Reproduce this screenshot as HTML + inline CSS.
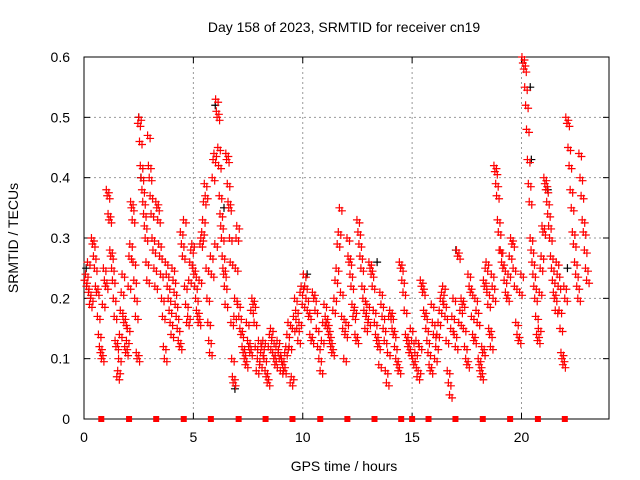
<!DOCTYPE html>
<html><head><meta charset="utf-8"><style>
body{margin:0;background:#fff}
svg{display:block;font-family:"Liberation Sans",sans-serif}
</style></head><body>
<svg id="chart" width="640" height="480">
<rect width="640" height="480" fill="#fff"/>
<text x="344" y="32" text-anchor="middle" font-size="14">Day 158 of 2023, SRMTID for receiver cn19</text>
<text x="344" y="471" text-anchor="middle" font-size="14">GPS time / hours</text>
<text transform="translate(18,238) rotate(-90)" text-anchor="middle" font-size="14">SRMTID / TECUs</text>
<g id="grid"></g>
<g id="axes"></g>
<g id="marks"></g>
</svg>
<script>
const xTicks=[0,5,10,15,20];
const yTicks=[0,0.1,0.2,0.3,0.4,0.5,0.6];
const yTickLabels=["0","0.1","0.2","0.3","0.4","0.5","0.6"];
const gapTimes=[0.79,2.06,3.3,4.56,5.8,7.07,8.3,9.53,10.8,12.04,13.28,14.5,15.0,15.75,16.98,18.23,19.48,20.75,21.98];
const hourBins=[
[0.23,0.24,0.22,0.26,0.21,0.19,0.20,0.30,0.29,0.27,0.25,0.22,0.21,0.17,0.14,0.12,0.11,0.10,0.19,0.25,0.23,0.22],
[0.38,0.37,0.34,0.33,0.28,0.27,0.25,0.23,0.20,0.17,0.13,0.12,0.07,0.08,0.10,0.14,0.18,0.21,0.24,0.17,0.16,0.12,0.11,0.13,0.15],
[0.22,0.27,0.29,0.36,0.35,0.33,0.26,0.23,0.20,0.17,0.11,0.10,0.49,0.50,0.46,0.42,0.40,0.38,0.36,0.34,0.32,0.30,0.26,0.23,0.47,0.42,0.40],
[0.37,0.34,0.30,0.28,0.25,0.22,0.36,0.35,0.33,0.29,0.27,0.24,0.20,0.17,0.12,0.10,0.26,0.24,0.22,0.20,0.18,0.16,0.14],
[0.25,0.23,0.21,0.19,0.17,0.15,0.13,0.12,0.31,0.29,0.27,0.33,0.22,0.19,0.16,0.17,0.23,0.26,0.28,0.29,0.25],
[0.24,0.22,0.20,0.18,0.17,0.16,0.23,0.29,0.30,0.31,0.33,0.36,0.39,0.37,0.25,0.20,0.16,0.13,0.11,0.27,0.24,0.40,0.43,0.44,0.29],
[0.53,0.51,0.50,0.45,0.42,0.37,0.34,0.32,0.30,0.27,0.25,0.24,0.22,0.19,0.44,0.43,0.39,0.36,0.35,0.30,0.26,0.16,0.10,0.07,0.06,0.17,0.20,0.25,0.30,0.32],
[0.19,0.17,0.15,0.14,0.12,0.11,0.10,0.09,0.16,0.13,0.12,0.11,0.18,0.20,0.19,0.16,0.12,0.08,0.10,0.13],
[0.09,0.11,0.12,0.13,0.10,0.08,0.07,0.06,0.12,0.14,0.15,0.13,0.11,0.10,0.09,0.12,0.13,0.11,0.10,0.08],
[0.10,0.09,0.08,0.11,0.12,0.14,0.16,0.12,0.06,0.07,0.15,0.17,0.20,0.18,0.15,0.13,0.16,0.21,0.22,0.19],
[0.24,0.22,0.20,0.18,0.17,0.14,0.13,0.21,0.20,0.18,0.15,0.12,0.10,0.08,0.13,0.16,0.19],
[0.17,0.16,0.15,0.14,0.13,0.12,0.11,0.18,0.20,0.23,0.25,0.29,0.31,0.35,0.21,0.17,0.15,0.10,0.14,0.16],
[0.30,0.27,0.26,0.24,0.22,0.19,0.17,0.18,0.14,0.13,0.33,0.31,0.29,0.27,0.25,0.22,0.20,0.18,0.15,0.17,0.19,0.16],
[0.26,0.25,0.24,0.22,0.18,0.16,0.14,0.13,0.12,0.09,0.21,0.19,0.17,0.15,0.13,0.08,0.06,0.11,0.17,0.18],
[0.17,0.15,0.14,0.12,0.10,0.09,0.08,0.26,0.25,0.23,0.21,0.18,0.14,0.13,0.12,0.11,0.15,0.13],
[0.10,0.09,0.11,0.13,0.07,0.08,0.12,0.23,0.22,0.21,0.18,0.17,0.15,0.13,0.11,0.09,0.08,0.19,0.16,0.14],
[0.10,0.12,0.14,0.16,0.18,0.20,0.21,0.22,0.19,0.17,0.13,0.08,0.06,0.04,0.15,0.17,0.20,0.14,0.12],
[0.28,0.27,0.16,0.18,0.20,0.19,0.15,0.12,0.10,0.09,0.24,0.22,0.21,0.17,0.14,0.13,0.20,0.18,0.16],
[0.10,0.09,0.08,0.07,0.12,0.11,0.23,0.22,0.25,0.26,0.21,0.19,0.15,0.14,0.12,0.24,0.22,0.20,0.42,0.41,0.39,0.37,0.33,0.31,0.28],
[0.28,0.26,0.25,0.23,0.21,0.20,0.24,0.27,0.30,0.29,0.25,0.22,0.16,0.14,0.13,0.21,0.24],
[0.60,0.59,0.58,0.55,0.52,0.48,0.43,0.39,0.36,0.30,0.28,0.26,0.24,0.22,0.20,0.17,0.14,0.13,0.15,0.21,0.25,0.27,0.32,0.31],
[0.40,0.39,0.38,0.36,0.34,0.32,0.30,0.27,0.25,0.23,0.21,0.20,0.18,0.26,0.24,0.22,0.18,0.15,0.11,0.10,0.09,0.22,0.20],
[0.50,0.49,0.45,0.42,0.38,0.35,0.31,0.29,0.26,0.24,0.22,0.20,0.44,0.40,0.37,0.33,0.31,0.28,0.25,0.23]
];
const blackTimes=[0.1,2.5,2.6,6.0,6.4,6.9,10.2,13.4,17.0,20.4,20.45,21.2,22.1];
const blackValues=[0.25,0.50,0.40,0.52,0.35,0.05,0.24,0.26,0.28,0.55,0.43,0.38,0.25];

const L=84,R=609,T=57,B=419,XMAX=24,YMAX=0.6;
const xs=v=>L+(R-L)*v/XMAX;
const ys=v=>B-(B-T)*v/YMAX;
const NS="http://www.w3.org/2000/svg";
function mk(tag,attrs,parent){const e=document.createElementNS(NS,tag);for(const k in attrs)e.setAttribute(k,attrs[k]);parent.appendChild(e);return e;}
const grid=document.getElementById('grid'),axes=document.getElementById('axes'),marks=document.getElementById('marks');
xTicks.forEach(t=>{if(t>0){const g=mk('line',{x1:xs(t),x2:xs(t),y1:T,y2:B,stroke:'#999','stroke-dasharray':'2,3'},grid);

}
mk('line',{x1:xs(t),x2:xs(t),y1:B,y2:B-6,stroke:'#000'},axes);
mk('line',{x1:xs(t),x2:xs(t),y1:T,y2:T+6,stroke:'#000'},axes);
const tx=mk('text',{x:xs(t),y:B+23,'text-anchor':'middle','font-size':14},axes);tx.textContent=t;

});
yTicks.forEach((t,i)=>{if(t>0&&t<YMAX){const g=mk('line',{x1:L,x2:R,y1:ys(t),y2:ys(t),stroke:'#999','stroke-dasharray':'2,3'},grid);

}
mk('line',{x1:L,x2:L+6,y1:ys(t),y2:ys(t),stroke:'#000'},axes);
mk('line',{x1:R,x2:R-6,y1:ys(t),y2:ys(t),stroke:'#000'},axes);
const tx=mk('text',{x:L-14,y:ys(t)+5,'text-anchor':'end','font-size':14},axes);tx.textContent=yTickLabels[i];

});
const fr=mk('rect',{x:L,y:T,width:R-L,height:B-T,fill:'none',stroke:'#000'},axes);


function plus(x,y,c){return mk('path',{d:`M${x-4},${y}h8M${x},${y-4}v8`,stroke:c,'stroke-width':1.2,fill:'none'},marks);}
blackTimes.forEach((t,i)=>{const p=plus(xs(t),ys(blackValues[i]),'#000');

});
hourBins.forEach((vals,h)=>{vals.forEach((v,i)=>{const t=h+(i+0.5)/vals.length;
const x=xs(t),y=ys(v);
const p=plus(x,y,'#f00');


const q=plus(x+2.5,y+3,'#f00');

});});
gapTimes.forEach(t=>{const r=mk('rect',{x:xs(t)-3,y:B-3,width:6,height:6,fill:'#f00'},marks);

});
</script>
</body></html>
